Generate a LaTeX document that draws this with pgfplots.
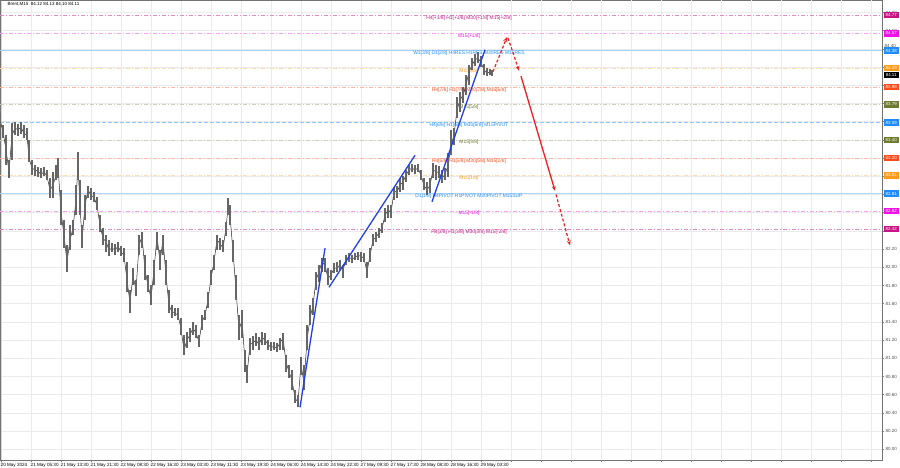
\documentclass[border=0pt]{standalone}
\usepackage{pgfplots}
\pgfplotsset{compat=1.18}
\usepackage{pgfplotstable}
\usepackage{fontspec}
\setmainfont{Liberation Sans}
\usetikzlibrary{arrows.meta}

\definecolor{mvr}{HTML}{C71585}
\definecolor{mag}{HTML}{F010E8}
\definecolor{dblue}{HTML}{1E8CFF}
\definecolor{dorange}{HTML}{FF9A1A}
\definecolor{ored}{HTML}{FF4A1A}
\definecolor{olivec}{HTML}{6E7B32}
\definecolor{trend}{HTML}{2040E8}
\definecolor{arrowred}{HTML}{F02020}

\pgfplotstableread{
x c h l
0 83.62 83.69 83.40
3 83.49 83.56 83.42
6 83.29 83.45 83.12
9 83.05 83.18 82.98
12 83.45 83.58 83.18
15 83.53 83.60 83.45
18 83.51 83.57 83.44
21 83.54 83.60 83.46
24 83.47 83.56 83.42
27 83.45 83.53 83.40
29 83.20 83.40 83.16
32 83.09 83.18 83.01
35 83.07 83.12 83.00
38 83.06 83.10 82.99
41 83.02 83.09 82.98
44 83.05 83.10 83.00
47 83.00 83.07 82.96
50 82.85 82.98 82.76
53 82.90 83.05 82.76
56 83.01 83.12 82.96
58 83.12 83.20 82.98
61 82.61 82.85 82.46
64 82.35 82.52 82.21
67 82.06 82.24 81.95
70 82.30 82.46 82.19
73 82.43 82.52 82.35
76 82.74 82.90 82.57
78 83.12 83.27 82.96
80 82.68 82.96 82.57
82 82.30 82.46 82.21
85 82.68 82.79 82.52
88 82.85 82.89 82.76
91 82.79 82.87 82.74
94 82.77 82.83 82.72
97 82.68 82.77 82.63
100 82.46 82.57 82.39
103 82.32 82.43 82.24
106 82.28 82.35 82.17
109 82.19 82.30 82.12
112 82.21 82.27 82.17
115 82.19 82.26 82.13
118 82.23 82.28 82.17
121 82.17 82.23 82.12
124 82.13 82.21 82.06
127 81.86 82.06 81.73
130 81.61 81.75 81.50
133 81.91 81.99 81.80
136 81.75 81.86 81.68
139 82.24 82.35 82.13
142 82.34 82.39 82.21
145 81.97 82.13 81.86
148 81.80 81.91 81.73
151 81.66 81.80 81.58
154 81.97 82.08 81.80
157 82.34 82.39 82.19
160 82.06 82.19 81.97
163 82.30 82.35 82.13
166 81.91 82.08 81.80
169 81.58 81.75 81.50
172 81.51 81.58 81.44
175 81.50 81.55 81.46
178 81.47 81.55 81.42
181 81.33 81.44 81.26
184 81.09 81.26 81.04
187 81.20 81.29 81.11
190 81.26 81.33 81.18
193 81.33 81.40 81.26
196 81.28 81.37 81.22
199 81.18 81.26 81.12
202 81.40 81.47 81.31
205 81.47 81.53 81.42
208 81.64 81.73 81.55
211 81.88 81.97 81.80
214 82.06 82.13 81.97
217 82.30 82.35 82.19
220 82.26 82.32 82.19
223 82.21 82.30 82.17
226 82.43 82.50 82.34
228 82.65 82.76 82.57
230 82.57 82.68 82.46
233 82.17 82.30 82.06
236 81.75 81.91 81.64
239 81.31 81.47 81.20
242 81.42 81.53 81.22
245 80.96 81.09 80.85
247 80.82 80.93 80.73
250 81.15 81.22 81.04
253 81.17 81.24 81.09
256 81.20 81.28 81.13
259 81.15 81.23 81.09
262 81.23 81.29 81.15
265 81.20 81.28 81.15
268 81.15 81.20 81.09
271 81.12 81.18 81.08
274 81.13 81.18 81.09
277 81.11 81.17 81.07
280 81.17 81.22 81.09
283 81.22 81.28 81.09
286 80.96 81.04 80.85
289 80.85 80.93 80.78
292 80.76 80.87 80.65
295 80.56 80.65 80.51
298 80.52 80.60 80.46
301 80.93 81.01 80.82
304 80.73 80.93 80.65
307 81.20 81.37 81.09
310 81.44 81.58 81.37
313 81.58 81.66 81.47
316 81.86 81.95 81.75
319 81.95 82.02 81.84
322 82.06 82.10 81.95
325 82.02 82.10 81.95
328 81.88 81.99 81.80
331 81.91 81.97 81.86
334 81.99 82.05 81.94
337 81.99 82.06 81.95
340 82.02 82.08 81.97
343 81.97 82.02 81.88
346 82.08 82.13 82.02
349 82.11 82.16 82.06
352 82.09 82.13 82.05
355 82.11 82.16 82.08
358 82.13 82.17 82.08
361 82.12 82.17 82.06
364 82.10 82.16 82.06
367 81.95 82.06 81.88
370 82.13 82.21 82.06
373 82.30 82.37 82.23
376 82.33 82.39 82.28
379 82.38 82.43 82.32
382 82.43 82.49 82.38
385 82.57 82.65 82.50
388 82.63 82.68 82.54
391 82.60 82.68 82.54
394 82.83 82.88 82.74
397 82.83 82.89 82.76
400 82.90 82.98 82.83
403 82.94 83.00 82.85
406 83.01 83.07 82.94
409 83.07 83.12 83.01
412 83.09 83.13 83.05
415 83.07 83.12 83.02
418 83.09 83.13 83.05
421 83.01 83.07 82.96
424 82.90 82.98 82.85
427 82.85 82.94 82.79
430 82.90 82.98 82.82
433 83.07 83.15 82.98
436 83.05 83.12 82.96
439 83.04 83.11 82.98
442 82.98 83.07 82.93
445 83.02 83.09 82.96
448 83.12 83.26 82.99
451 83.34 83.51 83.23
454 83.45 83.53 83.34
457 83.73 83.87 83.64
460 83.84 83.93 83.71
463 83.89 83.98 83.80
466 84.00 84.11 83.89
469 84.15 84.22 84.00
472 84.22 84.30 84.17
475 84.28 84.34 84.21
478 84.30 84.37 84.24
481 84.25 84.32 84.20
484 84.17 84.23 84.11
487 84.13 84.19 84.10
490 84.15 84.18 84.11
492 84.11 84.17 84.10
}\price

\newcommand{\lvlfont}{\fontsize{4.9}{5}\selectfont}
\newcommand{\boxfont}{\fontsize{4.4}{4.6}\selectfont}
% value, line style, label, text colour
\newcommand{\lvl}[4]{%
  \addplot[#2, line width=0.6pt, forget plot] coordinates {(0,#1) (882,#1)};
  \node[anchor=north, text=#4, font=\lvlfont, inner sep=0.3pt] at (axis cs:469,#1) {#3};
}
\newcommand{\pbox}[3]{%
  \node[anchor=west, fill=#2, text=#3, font=\boxfont, inner xsep=1pt, inner ysep=0.5pt,
        minimum width=15pt, minimum height=6.4pt, xshift=1.5pt] at (axis cs:882,#1) {#1};
}

\begin{document}
\begin{tikzpicture}
\useasboundingbox (0,-8pt) rectangle (900pt,460pt);
\begin{axis}[
  at={(0,0)}, anchor=south west,
  scale only axis, width=882pt, height=460pt,
  xmin=0, xmax=882, ymin=79.881, ymax=84.936,
  clip mode=individual,
  axis line style={black!55, line width=0.5pt},
  xtick={1,31,61,91,121,151,181,211,241,271,301,331,361,391,421,451,481},
  xticklabels={20 May 2024,21 May 05:30,21 May 13:30,21 May 21:30,22 May 08:30,22 May 16:30,23 May 03:30,23 May 11:30,23 May 19:30,24 May 06:30,24 May 14:30,24 May 22:30,27 May 09:30,27 May 17:30,28 May 08:30,28 May 16:30,29 May 03:30},
  extra x ticks={511,541,571,601,631,661,691,721,751,781,811,841,871},
  extra x tick labels={},
  extra x tick style={grid=major},
  xticklabel style={anchor=north west, font=\fontsize{4.6}{5}\selectfont, inner sep=0.5pt, xshift=-1pt, yshift=-0.3pt},
  ytick={80.0,80.2,80.4,80.6,80.8,81.0,81.2,81.4,81.6,81.8,82.0,82.2,82.4,82.6,82.8,83.0,83.2,83.4,83.6,83.8,84.0,84.2,84.4,84.6,84.8},
  yticklabels={80.00,80.20,80.40,80.60,80.80,81.00,81.20,81.40,81.60,81.80,82.00,82.20,,,,,,,,,,84.20,,84.60,84.80},
  yticklabel pos=right, ytick pos=right, xtick pos=left,
  yticklabel style={font=\fontsize{4.5}{5}\selectfont, text=black!70, inner sep=1pt, xshift=0.5pt},
  tick align=outside, major tick length=2pt,
  tick style={black!50, line width=0.4pt},
  grid=major, major grid style={black!8, line width=0.4pt},
]
% levels
\lvl{84.77}{mvr!50!white, dash pattern=on 4pt off 2pt on 1pt off 2pt}{H4[+1/8] H1[+1/8] M30[+1/8] M15[+2/8]}{mvr}
\lvl{84.57}{mag!40!white, dash pattern=on 4pt off 2pt on 1pt off 2pt}{M15[+1/8]}{mag}
\lvl{84.38}{dblue!40!white}{W1[3/8] D1[2/8] H4RES H1RES M30RES M15RES}{dblue}
\lvl{84.19}{dorange!35!white, dash pattern=on 4pt off 2pt on 1pt off 2pt}{M15[8/8]}{dorange}
\lvl{83.98}{ored!40!white, dash pattern=on 4pt off 2pt on 1pt off 2pt}{H4[7/8] H1[7/8] M30[7/8] M15[6/8]}{ored}
\lvl{83.79}{olivec!35!white, dash pattern=on 4pt off 2pt on 1pt off 2pt}{M15[5/8]}{olivec}
\lvl{83.59}{dblue!50!white, dash pattern=on 4pt off 2pt}{H4[6/8] H1[6/8] M30[6/8] M15PIVOT}{dblue}
\lvl{83.40}{olivec!35!white, dash pattern=on 4pt off 2pt on 1pt off 2pt}{M15[3/8]}{olivec}
\lvl{83.20}{ored!40!white, dash pattern=on 4pt off 2pt on 1pt off 2pt}{H4[5/8] H1[5/8] M30[5/8] M15[2/8]}{ored}
\lvl{83.01}{dorange!35!white, dash pattern=on 4pt off 2pt on 1pt off 2pt}{M15[1/8]}{dorange}
\lvl{82.81}{dblue!35!white, line width=0.9pt}{D1[1/8] H4PIVOT H1PIVOT M30PIVOT M15SUP}{dblue}
\lvl{82.62}{mag!40!white, dash pattern=on 4pt off 2pt on 1pt off 2pt}{M15[-1/8]}{mag}
\lvl{82.42}{mvr!50!white, dash pattern=on 4pt off 2pt on 1pt off 2pt}{H4[3/8] H1[3/8] M30[3/8] M15[-2/8]}{mvr}

% price bars
\addplot[black!85, line width=0.5pt, mark=none,
  error bars/.cd, y dir=both, y explicit,
  error bar style={line width=1.3pt, color=black!60}, error mark=none]
  table[x=x, y=c, y error plus expr=\thisrow{h}-\thisrow{c}, y error minus expr=\thisrow{c}-\thisrow{l}] {\price};

% trend lines
\addplot[trend, line width=1.3pt] coordinates {(300,80.46) (325,82.21)};
\addplot[trend, line width=1.3pt] coordinates {(329,81.78) (415,83.23)};
\addplot[trend, line width=1.3pt] coordinates {(432,82.72) (485,84.39)};

% projection arrows
\addplot[arrowred, line width=1.2pt, dash pattern=on 3pt off 2pt, -{Stealth[length=5pt,width=4pt]}] coordinates {(493,84.15) (507,84.53)};
\addplot[arrowred, line width=1.2pt, dash pattern=on 3pt off 2pt, -{Stealth[length=5pt,width=4pt]}] coordinates {(508,84.52) (519,84.16)};
\addplot[arrowred, line width=1.3pt, -{Stealth[length=5pt,width=4pt]}] coordinates {(521,84.10) (555,82.84)};
\addplot[arrowred, line width=1.2pt, dash pattern=on 3pt off 2pt, -{Stealth[length=5pt,width=4pt]}] coordinates {(556,82.80) (570,82.24)};

% price boxes
\pbox{84.77}{mvr}{white}
\pbox{84.57}{mag}{white}
\pbox{84.38}{dblue}{white}
\pbox{84.19}{dorange}{white}
\pbox{84.11}{black}{white}
\pbox{83.98}{ored}{white}
\pbox{83.79}{olivec}{white}
\pbox{83.59}{dblue}{white}
\pbox{83.40}{olivec}{white}
\pbox{83.20}{ored}{white}
\pbox{83.01}{dorange}{white}
\pbox{82.81}{dblue}{white}
\pbox{82.62}{mag}{white}
\pbox{82.42}{mvr}{white}
\node[anchor=south west, font=\fontsize{4.5}{5}\selectfont, text=black!70, inner sep=0pt, xshift=2.5pt, yshift=3.3pt] at (axis cs:882,84.38) {84.40};

\node[anchor=north west, font=\fontsize{4.5}{5}\selectfont, inner sep=0.5pt] at (rel axis cs:0,1) [xshift=7pt, yshift=-1.5pt] {Brent,M15\ \ 84.12 84.13 84.10 84.11};
\fill[black!70] ([xshift=1.5pt, yshift=-2.5pt]rel axis cs:0,1) -- ++(3pt,0) -- ++(-1.5pt,-2pt) -- cycle;
\end{axis}
\end{tikzpicture}
\end{document}
